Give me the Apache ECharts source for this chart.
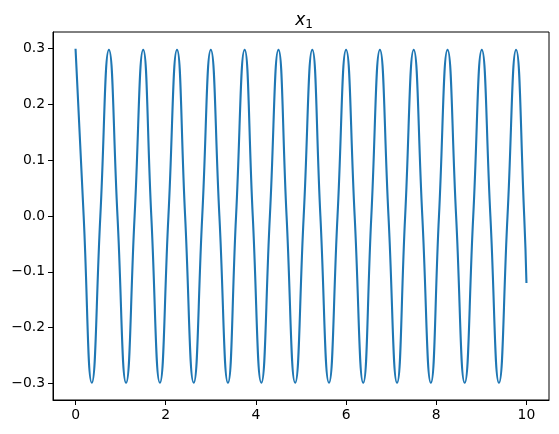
<!DOCTYPE html>
<html>
<head>
<meta charset="utf-8">
<script src="https://cdn.jsdelivr.net/npm/echarts@6/dist/echarts.min.js"></script>
<style>
  html, body { margin: 0; padding: 0; background: #fff; }
  #chart { width: 559px; height: 434px; }
</style>
</head>
<body>
<div id="chart"></div>
<script>
// points: peaks, troughs and zero crossings of x_1
var timeVals = [
  0.00, 0.18, 0.36, 0.55, 0.74, 0.93, 1.12, 1.31, 1.50, 1.68,
  1.87, 2.06, 2.25, 2.43, 2.62, 2.81, 3.00, 3.19, 3.38, 3.56,
  3.75, 3.93, 4.12, 4.31, 4.50, 4.68, 4.87, 5.06, 5.25, 5.43,
  5.62, 5.81, 6.00, 6.19, 6.38, 6.56, 6.75, 6.94, 7.13, 7.31,
  7.50, 7.69, 7.88, 8.06, 8.25, 8.44, 8.63, 8.82, 9.01, 9.20,
  9.39, 9.58, 9.77, 9.95, 10.00
];
var x1Vals = [
  0.300, 0.000, -0.299, 0.000, 0.298, 0.000, -0.299, 0.000, 0.298, 0.000,
  -0.299, 0.000, 0.298, 0.000, -0.299, 0.000, 0.298, 0.000, -0.299, 0.000,
  0.298, 0.000, -0.299, 0.000, 0.298, 0.000, -0.299, 0.000, 0.298, 0.000,
  -0.299, 0.000, 0.298, 0.000, -0.299, 0.000, 0.298, 0.000, -0.299, 0.000,
  0.298, 0.000, -0.299, 0.000, 0.298, 0.000, -0.299, 0.000, 0.298, 0.000,
  -0.299, 0.000, 0.298, 0.000, -0.120
];
var xTicks = [0, 2, 4, 6, 8, 10];
var yTicks = [-0.3, -0.2, -0.1, 0.0, 0.1, 0.2, 0.3];

var data = timeVals.map(function (t, i) { return [t, x1Vals[i]]; });

var chart = echarts.init(document.getElementById('chart'));
var font = 'DejaVu Sans';
chart.setOption({
  animation: false,
  title: {
    text: '{i|x}{s|1}',
    left: 299,
    top: 6,
    textAlign: 'center',
    textStyle: {
      fontWeight: 'normal',
      rich: {
        i: { fontFamily: font, fontStyle: 'italic', fontWeight: 'normal', fontSize: 17, color: '#000' },
        s: { fontFamily: font, fontWeight: 'normal', fontSize: 12, color: '#000', padding: [8, 0, 0, 0] }
      }
    }
  },
  grid: {
    left: 53, right: 10, top: 32, bottom: 34,
    show: true, borderColor: '#000', borderWidth: 1
  },
  xAxis: {
    type: 'value',
    min: -0.5,
    max: 10.5,
    splitLine: { show: false },
    axisLine: { onZero: false, lineStyle: { color: '#000' } },
    axisTick: { show: true, length: 5, lineStyle: { color: '#000' }, customValues: xTicks },
    axisLabel: {
      customValues: xTicks,
      color: '#000', fontFamily: font, fontSize: 13.9, margin: 8,
      formatter: function (v) { return String(v); }
    }
  },
  yAxis: {
    type: 'value',
    min: -0.33,
    max: 0.33,
    splitLine: { show: false },
    axisLine: { show: true, onZero: false, lineStyle: { color: '#000' } },
    axisTick: { show: true, length: 5, lineStyle: { color: '#000' }, customValues: yTicks },
    axisLabel: {
      customValues: yTicks,
      color: '#000', fontFamily: font, fontSize: 13.9, margin: 8,
      formatter: function (v) { return v.toFixed(1).replace('-', '\u2212'); }
    }
  },
  series: [{
    type: 'line',
    data: data,
    smooth: 0.5,
    showSymbol: false,
    lineStyle: { color: '#1f77b4', width: 2.1 }
  }]
});
</script>
</body>
</html>
